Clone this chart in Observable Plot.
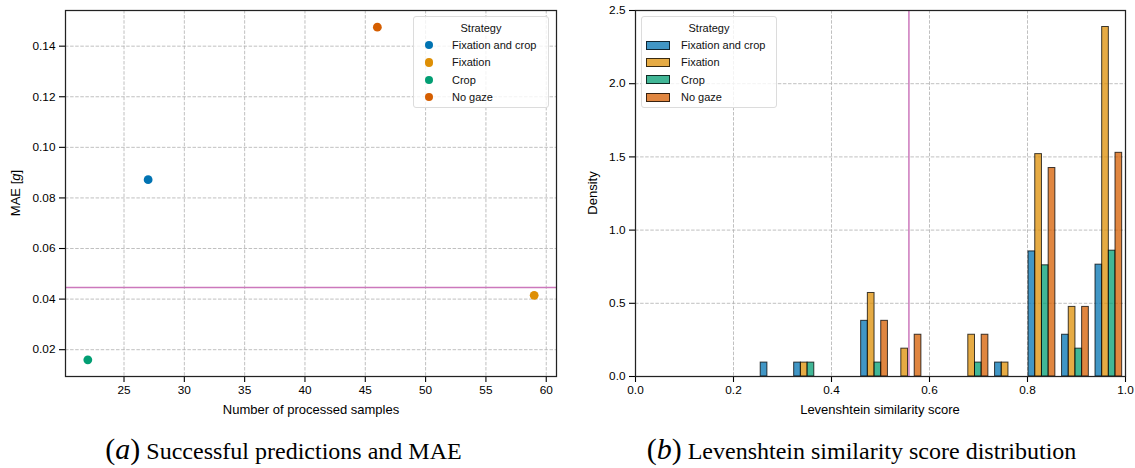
<!DOCTYPE html>
<html><head><meta charset="utf-8">
<script src="https://cdn.jsdelivr.net/npm/d3@7"></script>
<script src="https://cdn.jsdelivr.net/npm/@observablehq/plot@0.6"></script>
<style>
body{margin:0;background:#fff;}
#root{position:relative;width:1135px;height:468px;overflow:hidden;font-family:"Liberation Sans",Arial,Helvetica,sans-serif;color:#000;}
.panel{position:absolute;top:0;}
.panel text{font-size:11.8px !important;font-family:"Liberation Sans",Arial,sans-serif !important;fill:#000;}
.legend{position:absolute;box-sizing:border-box;border:1px solid #dcdcdc;border-radius:3px;background:rgba(255,255,255,0.8);font-size:11px;color:#111;}
.legend .ttl{position:absolute;left:0;right:0;text-align:center;line-height:12px;}
.legend .it{position:absolute;line-height:12px;white-space:nowrap;}
.legend .sym{position:absolute;box-sizing:border-box;}
.axlab{position:absolute;font-size:13px;white-space:nowrap;line-height:14px;}
.cap{position:absolute;font-family:"Liberation Serif","DejaVu Serif",serif;font-size:24px;white-space:nowrap;transform:translateX(-50%);top:434px;line-height:30px;}
.cap .p{font-size:30px;}
</style></head>
<body><div id="root"></div>
<script>
// ---------- data ----------
const strategies = ["Fixation and crop", "Fixation", "Crop", "No gaze"];
const colors = ["#0173B2", "#DE8F05", "#029E73", "#D55E00"];
const highlight = "#CC78BC";

// (a) scatter: processed samples vs MAE
const processedSamples = [27, 59, 22, 46];
const maeValues = [0.0872, 0.0415, 0.0160, 0.1475];
const maeReference = 0.0446;
const xTicksA = [25, 30, 35, 40, 45, 50, 55, 60];
const yTicksA = [0.02, 0.04, 0.06, 0.08, 0.10, 0.12, 0.14];

// (b) histogram of Levenshtein similarity (counts per bin per strategy)
const binEdges = [0.2487, 0.3170, 0.3854, 0.4537, 0.5220, 0.5903, 0.6587, 0.7270, 0.7953, 0.8637, 0.9320, 1.0];
const countsFixCrop = [1, 1, 0, 4, 0, 0, 0, 1, 9, 3, 8];
const countsFixation = [0, 1, 0, 6, 2, 0, 3, 1, 16, 5, 25];
const countsCrop = [0, 1, 0, 1, 0, 0, 1, 0, 8, 2, 9];
const countsNoGaze = [0, 0, 0, 4, 3, 0, 3, 0, 15, 5, 16];
const levReference = 0.558;
const xTicksB = [0.0, 0.2, 0.4, 0.6, 0.8, 1.0];
const yTicksB = [0.0, 0.5, 1.0, 1.5, 2.0, 2.5];

// ---------- build ----------
const root = document.getElementById("root");
const colorScale = {domain: strategies, range: colors};
const gridStyle = {stroke: "#b0b0b0", strokeOpacity: 1, strokeWidth: 0.8, strokeDasharray: "3.5,1.6"};
const plotStyle = {fontFamily: '"Liberation Sans", Arial, sans-serif', fontSize: "11.8px", color: "#000", background: "transparent"};
const xAxisOpts = {tickSize: 6, tickPadding: 3, label: null, stroke: "#000", strokeWidth: 1.1};
const yAxisOpts = {tickSize: 6, tickPadding: 4, label: null, stroke: "#000", strokeWidth: 1.1};

const scatterRows = strategies.map((s, i) => ({strategy: s, samples: processedSamples[i], mae: maeValues[i]}));

const plotA = Plot.plot({
  width: 570, height: 420,
  marginLeft: 65, marginRight: 14, marginTop: 10, marginBottom: 44,
  style: plotStyle,
  x: {domain: [20.15, 60.85]},
  y: {domain: [0.0094, 0.1541]},
  color: colorScale,
  marks: [
    Plot.gridX(xTicksA, gridStyle),
    Plot.gridY(yTicksA, gridStyle),
    Plot.ruleY([maeReference], {stroke: highlight, strokeWidth: 1.5}),
    Plot.dot(scatterRows, {x: "samples", y: "mae", fill: "strategy", r: 4.4, stroke: "none"}),
    Plot.axisX(xTicksA, {...xAxisOpts, tickFormat: d3.format("d")}),
    Plot.axisY(yTicksA, {...yAxisOpts, tickFormat: d3.format(".2f")}),
    Plot.frame({stroke: "#222", strokeWidth: 1.25})
  ]
});
plotA.classList.add("panel");
plotA.style.left = "0px";
root.appendChild(plotA);

const countSeries = [countsFixCrop, countsFixation, countsCrop, countsNoGaze];
const total = d3.sum(countSeries.map(c => d3.sum(c)));
const shrink = 0.8;
const barRows = [];
for (let i = 0; i < binEdges.length - 1; i++) {
  const bw = binEdges[i + 1] - binEdges[i];
  const w = bw * shrink / strategies.length;
  const start = binEdges[i] + bw * (1 - shrink) / 2;
  countSeries.forEach((c, j) => {
    if (c[i] > 0) barRows.push({strategy: strategies[j], x1: start + j * w, x2: start + (j + 1) * w, density: c[i] / (total * bw)});
  });
}

const plotB = Plot.plot({
  width: 555, height: 420,
  marginLeft: 55, marginRight: 10, marginTop: 10, marginBottom: 44,
  style: plotStyle,
  x: {domain: [0, 1]},
  y: {domain: [0, 2.5]},
  color: colorScale,
  marks: [
    Plot.gridX(xTicksB, gridStyle),
    Plot.gridY(yTicksB, gridStyle),
    Plot.rectY(barRows, {x1: "x1", x2: "x2", y1: 0, y2: "density", fill: "strategy", fillOpacity: 0.75, stroke: "#000", strokeOpacity: 0.75, strokeWidth: 1}),
    Plot.ruleX([levReference], {stroke: highlight, strokeWidth: 1.5}),
    Plot.axisX(xTicksB, {...xAxisOpts, tickFormat: d3.format(".1f")}),
    Plot.axisY(yTicksB, {...yAxisOpts, tickFormat: d3.format(".1f")}),
    Plot.frame({stroke: "#222", strokeWidth: 1.25})
  ]
});
plotB.classList.add("panel");
plotB.style.left = "580px";
root.appendChild(plotB);

// axis labels
function addLabel(html, x, y, rotate) {
  const d = document.createElement("div");
  d.className = "axlab";
  d.innerHTML = html;
  d.style.left = x + "px"; d.style.top = y + "px";
  d.style.transform = rotate ? "translate(-50%,-50%) rotate(-90deg)" : "translate(-50%,-50%)";
  root.appendChild(d);
}
addLabel("Number of processed samples", 311, 410, false);
addLabel('MAE [<i>g</i>]', 16, 193, true);
addLabel("Levenshtein similarity score", 880, 410, false);
addLabel("Density", 593, 193, true);

// legends
function addLegend(left, kind) {
  const L = document.createElement("div");
  L.className = "legend";
  L.style.left = left + "px"; L.style.top = "16px";
  L.style.width = "136px"; L.style.height = "92px";
  const t = document.createElement("div");
  t.className = "ttl"; t.textContent = "Strategy"; t.style.top = "5px";
  L.appendChild(t);
  strategies.forEach((s, i) => {
    const cy = 28 + i * 17.4;
    const sym = document.createElement("div");
    sym.className = "sym";
    if (kind === "dot") {
      sym.style.left = "11px"; sym.style.top = (cy - 4.2) + "px";
      sym.style.width = "8.4px"; sym.style.height = "8.4px";
      sym.style.borderRadius = "50%"; sym.style.background = colors[i];
    } else {
      sym.style.left = "4px"; sym.style.top = (cy - 4.5) + "px";
      sym.style.width = "24px"; sym.style.height = "9px";
      sym.style.background = d3.color(colors[i]).copy({opacity: 0.75}).toString();
      sym.style.border = "1px solid rgba(0,0,0,0.75)";
    }
    L.appendChild(sym);
    const it = document.createElement("div");
    it.className = "it"; it.textContent = s;
    it.style.left = (kind === "dot" ? 38 : 39) + "px"; it.style.top = (cy - 6) + "px";
    L.appendChild(it);
  });
  root.appendChild(L);
}
addLegend(413, "dot");
addLegend(641, "patch");

// captions
function addCaption(letter, text, cx) {
  const d = document.createElement("div");
  d.className = "cap";
  d.innerHTML = '<span class="p">(<i>' + letter + '</i>)</span> ' + text;
  d.style.left = cx + "px";
  root.appendChild(d);
}
addCaption("a", "Successful predictions and MAE", 283.5);
addCaption("b", "Levenshtein similarity score distribution", 861.5);
</script></body></html>
